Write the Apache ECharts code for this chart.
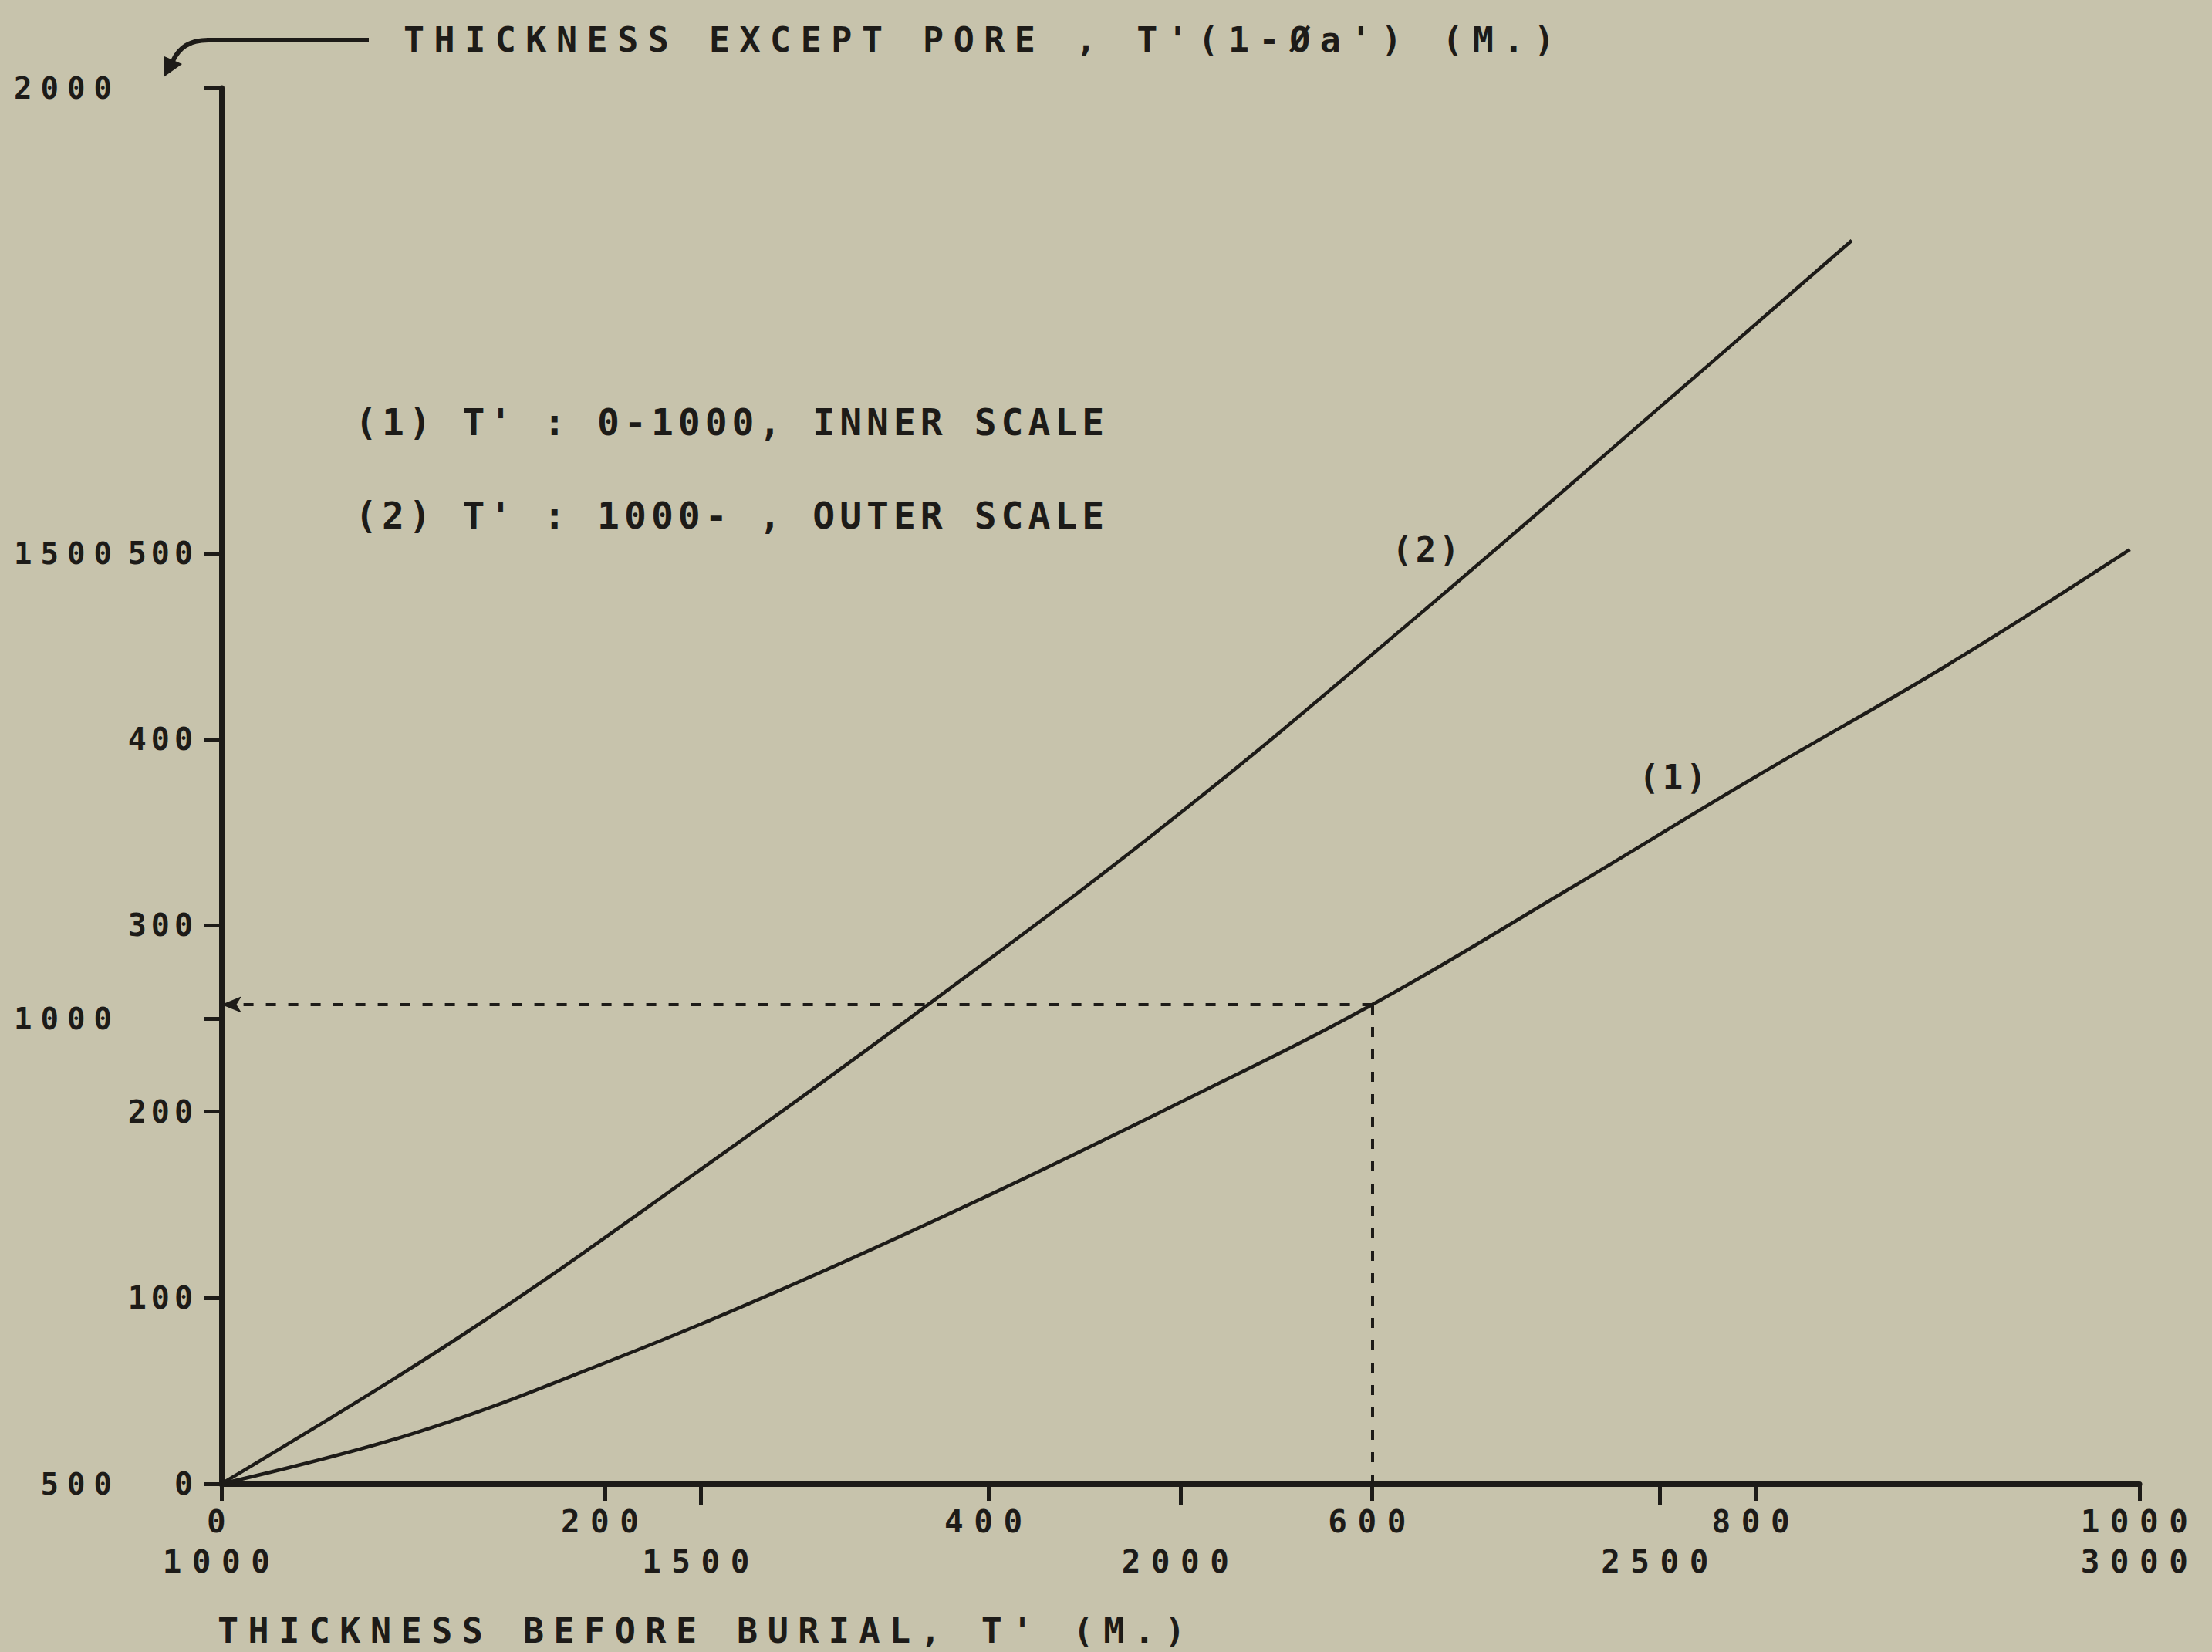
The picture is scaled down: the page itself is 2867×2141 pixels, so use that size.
<!DOCTYPE html>
<html>
<head>
<meta charset="utf-8">
<title>Thickness before burial vs thickness except pore</title>
<script src="https://cdn.jsdelivr.net/npm/echarts@6.0.0/dist/echarts.min.js"></script>
<style>
html, body { margin: 0; padding: 0; background: #c7c3ac; }
#main { width: 2867px; height: 2141px; }
</style>
</head>
<body>
<div id="main"></div>
<script>
// curve (1): T' 0 - 1000, read on the inner scales
var curve1T = [0, 100, 200, 300, 400, 500, 600, 700, 800, 900, 995];
var curve1V = [0, 27, 65, 108, 155, 205, 257.5, 318, 380, 440, 502];
// curve (2): T' 1000 -, read on the outer scales
var curve2T = [1000, 1250, 1500, 1750, 2000, 2250, 2500, 2700];
var curve2V = [500, 659, 838, 1025, 1221, 1435, 1657, 1836];

// tick labels
var innerXTicks = [0, 200, 400, 600, 800, 1000];
var outerXTicks = [1000, 1500, 2000, 2500, 3000];
var outerXMarks = [1500, 2000, 2500];
var innerYTicks = [0, 100, 200, 300, 400, 500];
var outerYTicks = [500, 1000, 1500, 2000];
var outerYMarks = [1000, 2000];

// the dashed reading at T' = 600 m
var readT = 600;
var readV = 257.5;

var ink = '#1d1b18';
var mono = '"DejaVu Sans Mono", monospace';

// letter spacing of the old stencil lettering, keyed by font size
var spacingBySize = { 39: 11, 40: 6, 41: 13.5, 44: 4, 45: 12.5, 48: 6 };

function pairs(xs, ys) {
    var out = [];
    for (var i = 0; i < xs.length; i++) {
        out.push([xs[i], ys[i]]);
    }
    return out;
}

function label(text, x, y, size, align) {
    return {
        type: 'text',
        x: x,
        y: y,
        silent: true,
        style: {
            text: text,
            fill: ink,
            font: 'bold ' + size + 'px ' + mono,
            textAlign: align || 'left',
            textVerticalAlign: 'middle'
        }
    };
}

function plain(v) {
    return String(v);
}

var axisLineStyle = { color: ink, width: 7 };
var tickStyle = { color: ink, width: 5 };
var numLabel = { color: ink, fontFamily: mono, fontWeight: 'bold', formatter: plain };

var myChart = echarts.init(document.getElementById('main'), null, { renderer: 'svg' });

var option = {
    backgroundColor: '#c7c3ac',
    animation: false,
    grid: { left: 287, right: 94, top: 114, bottom: 218, containLabel: false, outerBoundsMode: 'none' },
    xAxis: [
        {
            type: 'value', position: 'bottom', min: 0, max: 1000, interval: 200,
            axisLine: { show: true, onZero: false, lineStyle: axisLineStyle },
            axisTick: { show: true, length: 22, lineStyle: tickStyle, customValues: innerXTicks },
            axisLabel: Object.assign({ customValues: innerXTicks, margin: 28, fontSize: 41 }, numLabel),
            splitLine: { show: false }
        },
        {
            type: 'value', position: 'bottom', min: 1000, max: 3000, interval: 500,
            axisLine: { show: false, onZero: false },
            axisTick: { show: true, length: 28, lineStyle: tickStyle, customValues: outerXMarks },
            axisLabel: Object.assign({ customValues: outerXTicks, margin: 80, fontSize: 41 }, numLabel),
            splitLine: { show: false }
        }
    ],
    yAxis: [
        {
            type: 'value', position: 'left', min: 0, max: 750, interval: 100,
            axisLine: { show: true, onZero: false, lineStyle: axisLineStyle },
            axisTick: { show: true, length: 22, lineStyle: tickStyle, customValues: innerYTicks },
            axisLabel: Object.assign({ customValues: innerYTicks, margin: 31, fontSize: 40 }, numLabel),
            splitLine: { show: false }
        },
        {
            type: 'value', position: 'left', min: 500, max: 2000, interval: 500, offset: 0,
            axisLine: { show: false, onZero: false },
            axisTick: { show: true, length: 22, lineStyle: tickStyle, customValues: outerYMarks },
            axisLabel: Object.assign({ customValues: outerYTicks, margin: 131, fontSize: 39 }, numLabel),
            splitLine: { show: false }
        }
    ],
    series: [
        {
            name: '(1)',
            type: 'line',
            xAxisIndex: 0,
            yAxisIndex: 0,
            data: pairs(curve1T, curve1V),
            smooth: 0.4,
            showSymbol: false,
            symbol: 'none',
            lineStyle: { color: ink, width: 4.5 },
            markLine: {
                silent: true,
                label: { show: false },
                lineStyle: { color: ink, width: 4, type: [13, 16] },
                data: [
                    [
                        { coord: [readT, readV], symbol: 'none' },
                        { coord: [0, readV], symbol: 'arrow', symbolSize: [16, 26] }
                    ],
                    [
                        { coord: [readT, readV], symbol: 'none' },
                        { coord: [readT, 0], symbol: 'none' }
                    ]
                ]
            }
        },
        {
            name: '(2)',
            type: 'line',
            xAxisIndex: 1,
            yAxisIndex: 1,
            data: pairs(curve2T, curve2V),
            smooth: 0.4,
            showSymbol: false,
            symbol: 'none',
            lineStyle: { color: ink, width: 4.5 }
        }
    ],
    graphic: [
        // arrow from the title down to the outer scale
        {
            type: 'polyline', silent: true,
            shape: { points: [[478, 52], [268, 52]] },
            style: { stroke: ink, lineWidth: 6, fill: null }
        },
        {
            type: 'bezierCurve', silent: true,
            shape: { x1: 270, y1: 52, cpx1: 245, cpy1: 52, cpx2: 232, cpy2: 62, x2: 224, y2: 79 },
            style: { stroke: ink, lineWidth: 6, fill: null }
        },
        {
            type: 'polygon', silent: true,
            shape: { points: [[212, 100], [213, 73], [236, 83]] },
            style: { fill: ink }
        },
        label("THICKNESS EXCEPT PORE , T'(1-Øa') (M.)", 523, 51, 45),
        label("THICKNESS BEFORE BURIAL, T' (M.)", 282, 2113, 45),
        label("(1) T' : 0-1000, INNER SCALE", 460, 547, 48),
        label("(2) T' : 1000- , OUTER SCALE", 460, 668, 48),
        label('(2)', 1850, 712, 44, 'center'),
        label('(1)', 2170, 1007, 44, 'center')
    ]
};

myChart.setOption(option);

function spaceLetters() {
    var texts = document.querySelectorAll('#main text');
    for (var i = 0; i < texts.length; i++) {
        var fs = Math.round(parseFloat(getComputedStyle(texts[i]).fontSize));
        if (spacingBySize[fs] != null) {
            texts[i].style.letterSpacing = spacingBySize[fs] + 'px';
        }
    }
}
myChart.on('finished', spaceLetters);
spaceLetters();
setTimeout(spaceLetters, 50);
</script>
</body>
</html>
